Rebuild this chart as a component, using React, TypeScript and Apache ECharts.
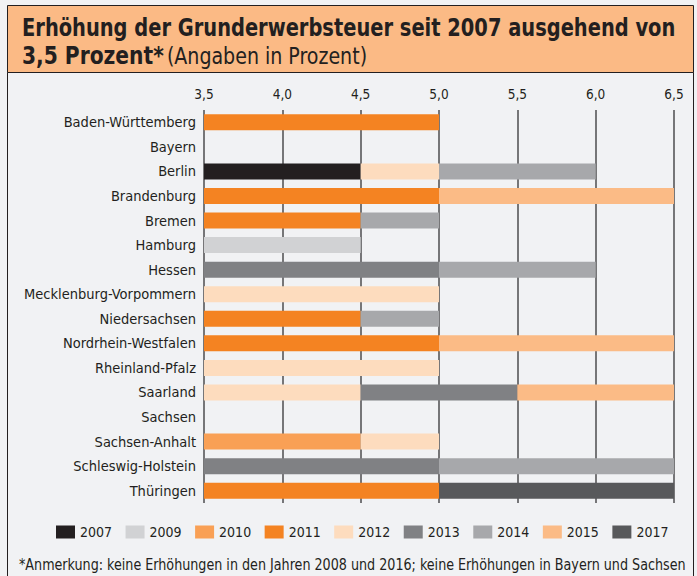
import React, { useEffect, useRef } from "react";
import * as echarts from "echarts";

const states = [
  "Baden-Württemberg",
  "Bayern",
  "Berlin",
  "Brandenburg",
  "Bremen",
  "Hamburg",
  "Hessen",
  "Mecklenburg-Vorpommern",
  "Niedersachsen",
  "Nordrhein-Westfalen",
  "Rheinland-Pfalz",
  "Saarland",
  "Sachsen",
  "Sachsen-Anhalt",
  "Schleswig-Holstein",
  "Thüringen",
];

const baseRate = [3.5, 3.5, 3.5, 3.5, 3.5, 3.5, 3.5, 3.5, 3.5, 3.5, 3.5, 3.5, 3.5, 3.5, 3.5, 3.5];

// increase (percentage points) in each year, per state
const y2007 = [0, 0, 1.0, 0, 0, 0, 0, 0, 0, 0, 0, 0, 0, 0, 0, 0];
const y2009 = [0, 0, 0, 0, 0, 1.0, 0, 0, 0, 0, 0, 0, 0, 0, 0, 0];
const y2010 = [0, 0, 0, 0, 0, 0, 0, 0, 0, 0, 0, 0, 0, 1.0, 0, 0];
const y2011 = [1.5, 0, 0, 1.5, 1.0, 0, 0, 0, 1.0, 1.5, 0, 0, 0, 0, 0, 1.5];
const y2012 = [0, 0, 0.5, 0, 0, 0, 0, 1.5, 0, 0, 1.5, 1.0, 0, 0.5, 0, 0];
const y2013 = [0, 0, 0, 0, 0, 0, 1.5, 0, 0, 0, 0, 1.0, 0, 0, 1.5, 0];
const y2014 = [0, 0, 1.0, 0, 0.5, 0, 1.0, 0, 0.5, 0, 0, 0, 0, 0, 1.5, 0];
const y2015 = [0, 0, 0, 1.5, 0, 0, 0, 0, 0, 1.5, 0, 1.0, 0, 0, 0, 0];
const y2017 = [0, 0, 0, 0, 0, 0, 0, 0, 0, 0, 0, 0, 0, 0, 0, 1.5];

const years = ["2007", "2009", "2010", "2011", "2012", "2013", "2014", "2015", "2017"];
const yearData = [y2007, y2009, y2010, y2011, y2012, y2013, y2014, y2015, y2017];
const yearColors = ["#231F20", "#D1D2D4", "#F9A055", "#F48322", "#FDDCBE", "#808184", "#A7A8AB", "#FBBB86", "#58595B"];

const xTicks = { min: 3.5, max: 6.5, interval: 0.5 };

const titleLine1 = "Erhöhung der Grunderwerbsteuer seit 2007 ausgehend von";
const titleLine2Bold = "3,5 Prozent*";
const titleLine2Normal = "(Angaben in Prozent)";
const footnote = "*Anmerkung: keine Erhöhungen in den Jahren 2008 und 2016; keine Erhöhungen in Bayern und Sachsen";

const FONT = '"DejaVu Sans Condensed", "Liberation Sans Narrow", sans-serif';
const TEXT = "#231F20";

export default function App() {
  const ref = useRef<HTMLDivElement>(null);
  useEffect(() => {
    if (!ref.current) return;
    const chart = echarts.init(ref.current, undefined, { renderer: "svg" });
    const series: any[] = [
      {
        name: "_base",
        type: "bar",
        stack: "rate",
        data: baseRate,
        barWidth: 16,
        silent: true,
        itemStyle: { color: "rgba(0,0,0,0)" },
      },
    ];
    years.forEach((y, i) => {
      series.push({
        name: y,
        type: "bar",
        stack: "rate",
        data: yearData[i],
        barWidth: 16,
        itemStyle: { color: yearColors[i] },
      });
    });
    chart.setOption({
      animation: false,
      backgroundColor: "#F1F2F4",
      textStyle: { fontFamily: FONT },
      grid: { left: 204, right: 23, top: 110, bottom: 73 },
      xAxis: {
        type: "value",
        position: "top",
        min: xTicks.min,
        max: xTicks.max,
        interval: xTicks.interval,
        axisLine: { show: false },
        axisTick: { show: false },
        axisLabel: {
          fontSize: 13.5,
          color: TEXT,
          fontFamily: FONT,
          margin: 9,
          formatter: (v: number) => v.toFixed(1).replace(".", ","),
        },
        splitLine: { show: true, lineStyle: { color: "#4D4D4F", width: 1.5 } },
      },
      yAxis: {
        type: "category",
        data: states,
        inverse: true,
        axisLine: { show: false },
        axisTick: { show: false },
        axisLabel: { fontSize: 14.5, color: TEXT, fontFamily: FONT, margin: 8 },
      },
      legend: {
        data: years,
        left: 51,
        top: 520,
        itemWidth: 19,
        itemHeight: 13,
        itemGap: 13.5,
        icon: "rect",
        textStyle: { fontSize: 14, color: TEXT, fontFamily: FONT },
        selectedMode: false,
      },
      graphic: [
        {
          type: "rect",
          z: -10,
          shape: { x: 7.5, y: 72.5, width: 686, height: 520 },
          style: { fill: "#F1F2F4", stroke: TEXT, lineWidth: 1 },
        },
        {
          type: "rect",
          z: -10,
          shape: { x: 7.5, y: 5.5, width: 686, height: 67 },
          style: { fill: "#FBBA85", stroke: TEXT, lineWidth: 1 },
        },
        {
          type: "text",
          z: 10,
          x: 22,
          y: 27,
          scaleX: 0.865,
          style: {
            text: titleLine1,
            fontFamily: FONT,
            fontWeight: "bold",
            fontSize: 25,
            fill: TEXT,
            verticalAlign: "middle",
          },
        },
        {
          type: "text",
          z: 10,
          x: 22,
          y: 56,
          scaleX: 0.9,
          style: {
            text: "{b|" + titleLine2Bold + "} {n|" + titleLine2Normal + "}",
            fontFamily: FONT,
            fill: TEXT,
            verticalAlign: "middle",
            rich: {
              b: { fontFamily: FONT, fontWeight: "bold", fontSize: 25, fill: TEXT },
              n: { fontFamily: FONT, fontSize: 23.5, fill: TEXT },
            },
          },
        },
        {
          type: "text",
          z: 10,
          x: 19,
          y: 565,
          scaleX: 0.885,
          style: {
            text: footnote,
            fontFamily: FONT,
            fontSize: 16,
            fill: TEXT,
            verticalAlign: "middle",
          },
        },
      ],
      series,
    });
    return () => chart.dispose();
  }, []);
  return <div ref={ref} style={{ position: "fixed", left: 0, top: 0, width: 697, height: 576 }} />;
}
